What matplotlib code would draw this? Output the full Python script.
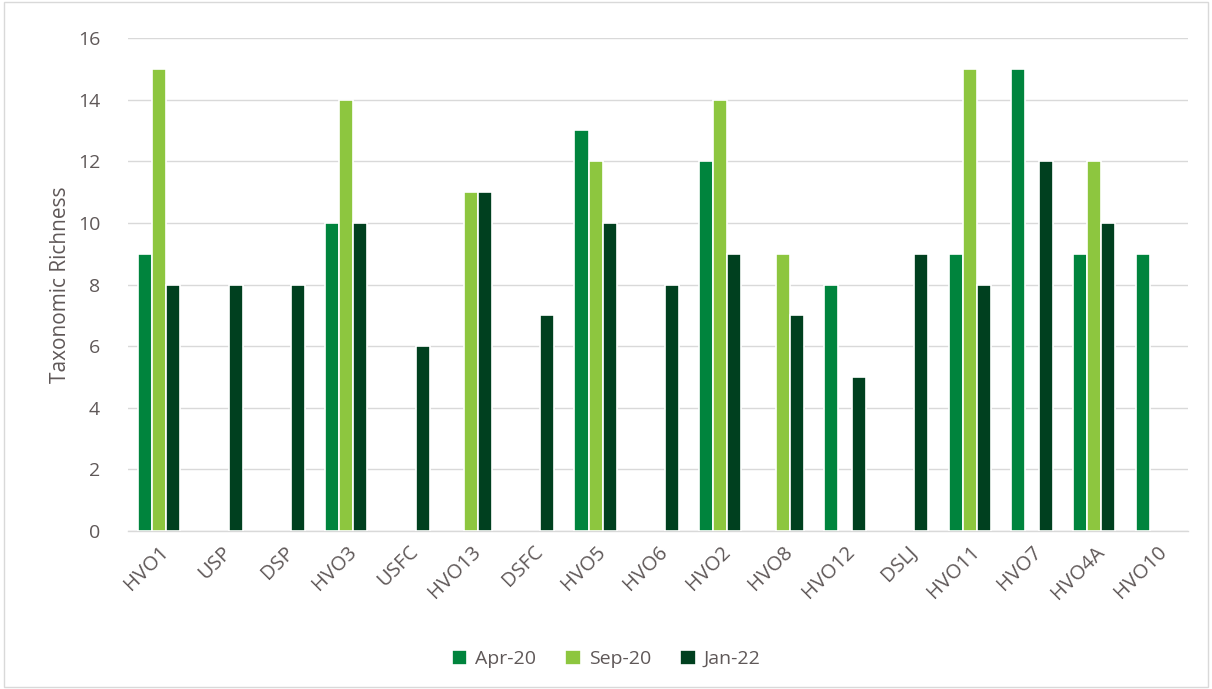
import numpy as np
import matplotlib
matplotlib.use("Agg")
import matplotlib.pyplot as plt
from matplotlib.patches import Rectangle

sites = ["HVO1", "USP", "DSP", "HVO3", "USFC", "HVO13", "DSFC", "HVO5", "HVO6",
         "HVO2", "HVO8", "HVO12", "DSLJ", "HVO11", "HVO7", "HVO4A", "HVO10"]
nan = np.nan
apr20 = [9, nan, nan, 10, nan, nan, nan, 13, nan, 12, nan, 8, nan, 9, 15, 9, 9]
sep20 = [15, nan, nan, 14, nan, 11, nan, 12, nan, 14, 9, nan, nan, 15, nan, 12, nan]
jan22 = [8, 8, 8, 10, 6, 11, 7, 10, 8, 9, 7, 5, 9, 8, 12, 10, nan]
series_labels = ["Apr-20", "Sep-20", "Jan-22"]
colors = ["#00843D", "#8DC63F", "#00401F"]
text_color = "#5f5858"

plt.rcParams["font.family"] = ["Open Sans", "DejaVu Sans"]

fig = plt.figure(figsize=(12.12, 6.89), dpi=100)
ax = fig.add_axes([0.1056, 0.2293, 0.8744, 0.7155])

x = np.arange(len(sites))
w = 0.225
for i, (vals, lab, c) in enumerate(zip([apr20, sep20, jan22], series_labels, colors)):
    ax.bar(x + (i - 1) * w, vals, width=w, color=c, edgecolor="white",
           linewidth=1.2, label=lab, zorder=3)

ax.set_xlim(-0.5, len(sites) - 0.5)
ax.set_ylim(0, 16)
ax.set_yticks(range(0, 17, 2))
ax.grid(axis="y", color="#d9d9d9", linewidth=1, zorder=0)
for s in ["top", "right", "left"]:
    ax.spines[s].set_visible(False)
ax.spines["bottom"].set_color("#d9d9d9")
ax.spines["bottom"].set_linewidth(1)
ax.tick_params(axis="both", length=0, colors=text_color, labelsize=14)
ax.tick_params(axis="y", pad=20)
ax.tick_params(axis="x", labelsize=14.5)
ax.set_xticks(x)
ax.set_xticklabels(sites, rotation=45, ha="right", rotation_mode="anchor")
ax.tick_params(axis="x", pad=8)
ax.set_ylabel("Taxonomic Richness", color=text_color, fontsize=15, labelpad=5)

leg = fig.legend(loc="lower center", bbox_to_anchor=(0.5, 0.005), ncol=3,
                 frameon=False, fontsize=14, handlelength=0.8, handleheight=0.8,
                 columnspacing=1.5, handletextpad=0.4)
for t in leg.get_texts():
    t.set_color(text_color)

fig.patches.append(Rectangle((0.003, 0.003), 0.994, 0.994, transform=fig.transFigure,
                             fill=False, edgecolor="#d9d9d9", linewidth=1))

fig.savefig("out.png", dpi=100, facecolor="white")
